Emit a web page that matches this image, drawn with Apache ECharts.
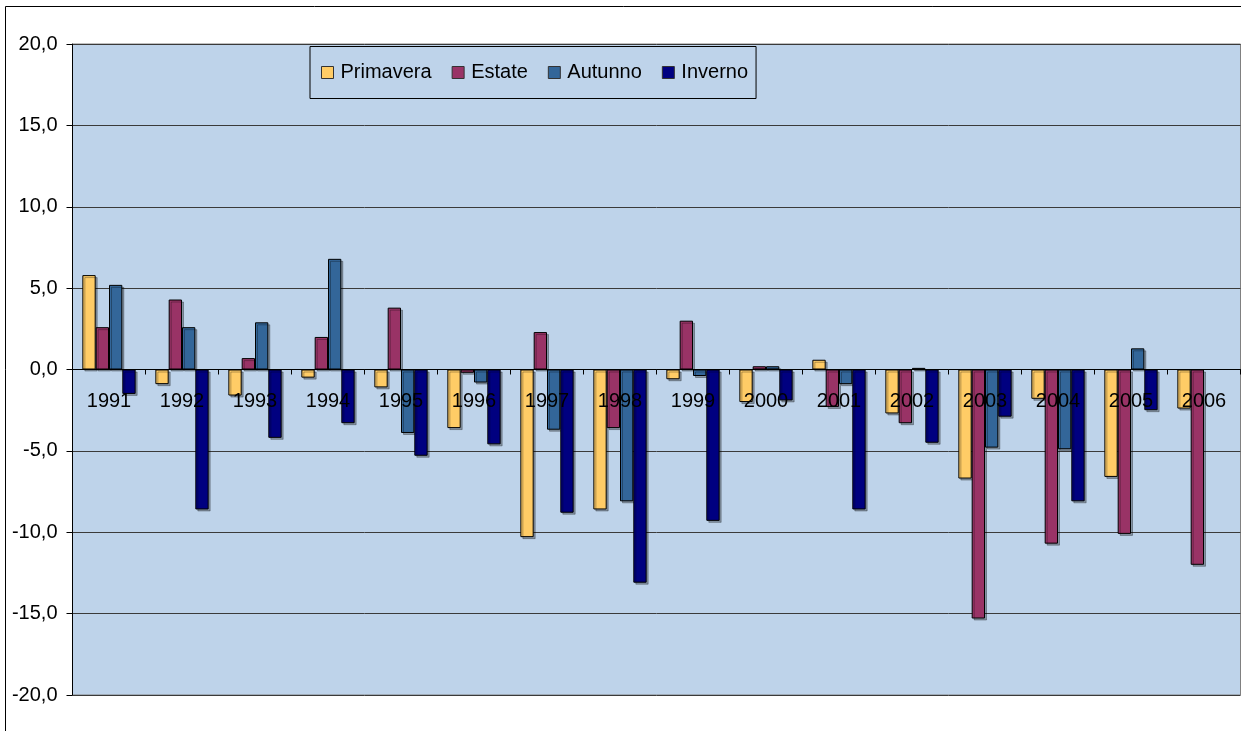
<!DOCTYPE html>
<html>
<head>
<meta charset="utf-8">
<script src="https://cdn.jsdelivr.net/npm/echarts@6/dist/echarts.min.js"></script>
<style>
  html, body { margin: 0; padding: 0; background: #ffffff; }
  #chart { width: 1241px; height: 731px; }
</style>
</head>
<body>
<div id="chart"></div>
<script>
const years = ['1991','1992','1993','1994','1995','1996','1997','1998','1999','2000','2001','2002','2003','2004','2005','2006'];
const primavera = [5.8, -0.9, -1.6, -0.5, -1.1, -3.6, -10.3, -8.6, -0.6, -2.0, 0.6, -2.7, -6.7, -1.8, -6.6, -2.4];
const estate    = [2.6, 4.3, 0.7, 2.0, 3.8, -0.2, 2.3, -3.6, 3.0, 0.2, -2.3, -3.3, -15.3, -10.7, -10.1, -12.0];
const autunno   = [5.2, 2.6, 2.9, 6.8, -3.9, -0.8, -3.7, -8.1, -0.4, 0.2, -0.9, 0.1, -4.8, -4.9, 1.3, null];
const inverno   = [-1.5, -8.6, -4.2, -3.3, -5.3, -4.6, -8.8, -13.1, -9.3, -1.9, -8.6, -4.5, -2.9, -8.1, -2.5, null];
const seriesNames = ['Primavera', 'Estate', 'Autunno', 'Inverno'];
const yTicks = { min: -20, max: 20, step: 5 };

const colors = ['#FFCC66', '#993366', '#336699', '#000080'];
const dataSets = [primavera, estate, autunno, inverno];
const FONT = '"Liberation Sans", Arial, sans-serif';

const GRID_TOP = 44, GRID_H = 651;

const chart = echarts.init(document.getElementById('chart'), null, { renderer: 'canvas' });

const series = seriesNames.map((name, i) => ({
  name: name,
  type: 'bar',
  data: dataSets[i],
  barGap: '0%',
  barCategoryGap: '27%',
  itemStyle: {
    color: colors[i],
    borderColor: '#000000',
    borderWidth: 1,
    shadowColor: 'rgba(0,0,0,0.3)',
    shadowBlur: 0,
    shadowOffsetX: 2,
    shadowOffsetY: 2
  },
  emphasis: { disabled: true },
  animation: false
}));

chart.setOption({
  animation: false,
  color: colors,
  graphic: [{
    type: 'rect',
    shape: { x: 5.5, y: 6.5, width: 1400, height: 900 },
    style: { fill: 'none', stroke: '#000000', lineWidth: 1 },
    silent: true,
    z: -10
  }],
  grid: {
    left: 72.5, top: GRID_TOP, width: 1168, height: GRID_H,
    show: true,
    backgroundColor: '#BED3EA',
    borderColor: '#808080',
    borderWidth: 1,
    containLabel: false,
    outerBoundsMode: 'none'
  },
  legend: {
    data: seriesNames,
    left: 310, top: 46.5,
    orient: 'horizontal',
    backgroundColor: '#BED3EA',
    borderColor: '#000000',
    borderWidth: 1,
    padding: [16, 8, 16, 11],
    itemGap: 20,
    itemWidth: 12,
    itemHeight: 12,
    icon: 'rect',
    itemStyle: { borderColor: '#333333', borderWidth: 1, shadowBlur: 0, shadowOffsetX: 0, shadowOffsetY: 0 },
    textStyle: { fontFamily: FONT, fontSize: 20, color: '#000000', padding: [0, 0, 0, 2] },
    selectedMode: false,
    z: 10
  },
  xAxis: {
    type: 'category',
    data: years,
    boundaryGap: true,
    position: 'bottom',
    offset: -(GRID_H * (0 - yTicks.min) / (yTicks.max - yTicks.min)),
    axisLine: { show: true, onZero: false, lineStyle: { color: '#000000', width: 1 } },
    axisTick: { show: true, length: 5, inside: false, lineStyle: { color: '#000000' } },
    axisLabel: { fontFamily: FONT, fontSize: 20, color: '#000000', margin: 22, interval: 0 },
    splitLine: { show: false },
    z: 5
  },
  yAxis: {
    type: 'value',
    min: yTicks.min, max: yTicks.max, interval: yTicks.step,
    axisLine: { show: true, lineStyle: { color: '#000000', width: 1 } },
    axisTick: { show: true, length: 6, inside: false, lineStyle: { color: '#000000' } },
    axisLabel: {
      fontFamily: FONT, fontSize: 20, color: '#000000', margin: 15,
      formatter: v => v.toFixed(1).replace('.', ',')
    },
    splitLine: { show: true, lineStyle: { color: '#3a3a3a', width: 1 } }
  },
  series: series
});
</script>
</body>
</html>
